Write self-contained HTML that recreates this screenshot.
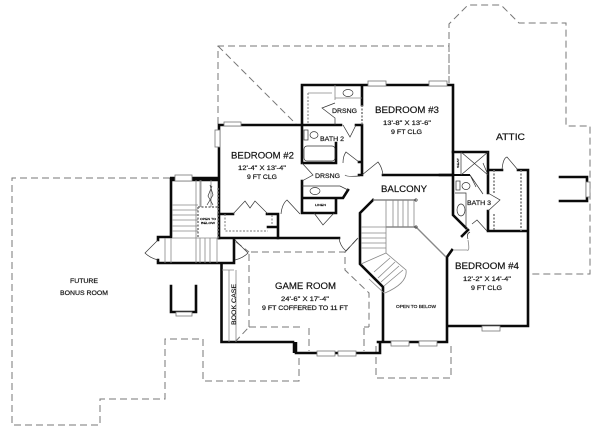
<!DOCTYPE html>
<html><head><meta charset="utf-8"><style>
html,body{margin:0;padding:0;background:#fff}
svg{display:block;filter:blur(.3px)}
text{font-family:"Liberation Sans",sans-serif;fill:#111;stroke:#111;stroke-width:.18}
.w{stroke:#0a0a0a;stroke-width:2.6;fill:none;stroke-linecap:square}
.t{stroke:#0a0a0a;stroke-width:2;fill:none}
.h{stroke:#0a0a0a;stroke-width:4.5;fill:none}
.d{stroke:#777;stroke-width:1;fill:none;stroke-dasharray:7 4}
.f{stroke:#333;stroke-width:.7;fill:none}
.g{stroke:#888;stroke-width:.8;fill:none}
.n{stroke:#777;stroke-width:.8;fill:#fff}
.o{stroke:#777;stroke-width:1.5;fill:none;stroke-dasharray:2 1.5}
</style></head><body>
<svg width="600" height="434" viewBox="0 0 600 434" xmlns="http://www.w3.org/2000/svg">
<rect width="600" height="434" fill="#fff"/>
<!-- dashed outlines -->
<path class="d" d="M218 124V46H449V83M218 46L296 124"/>
<path class="d" d="M449 83V24L468 5H501L519 23H566V126H590V274H528"/>
<path class="d" d="M170 178H12V425H100V399H165V339H203V381H299V354"/>
<path class="d" d="M376 346V378H451V346"/>
<path class="d" d="M249 327V252H345V270L369 293V327M249 327H300M309 328V351M364 328V351M369 327H364M235 342L249 327M345 252L358 238M236 242L249 252"/>
<!-- main walls -->
<path class="w" d="M219 238V125H302M302 85V163H336V143M302 85H453V215L466 228M302 125H341M356 125H362M362 85V105M362 125V175M359 162H362M359 175H362M383 175H453"/>
<path class="h" d="M170 179H219"/>
<path class="w" d="M171 179V237H158V240M158 260V263H234V240M219 238H339M221.5 264V342H293"/>
<path class="h" d="M295 342V353"/>
<path class="w" d="M296 353H380V343"/>
<path class="w" d="M378 342H447V326H528V170H518M502 170H488V152H453M488 152V193M488 211V231H528M383 342V287L360 264V213L373 200M447 342V257L452 250M462 236L468 230M440 175H453"/>
<path class="t" d="M453 175H470"/>
<path class="w" d="M560 177H587V201H560M171 286V312H196V286"/>
<path class="w" d="M219 214H233M267 214H278V238M268 227H278V238"/>
<path class="w" d="M302 181V213H336V198M302 198H343L348 190"/>
<!-- windows -->
<g class="n">
<rect x="224" y="122" width="17" height="4"/><rect x="215" y="130" width="5" height="17"/>
<rect x="175" y="175" width="17" height="6"/>
<rect x="368" y="81" width="18" height="5"/><rect x="429" y="81" width="18" height="5"/>
<rect x="482" y="326" width="18" height="5"/>
<rect x="391" y="341" width="18" height="5"/><rect x="419" y="341" width="18" height="5"/>
<rect x="317" y="351" width="18" height="5"/><rect x="338" y="351" width="18" height="5"/>
<rect x="176" y="312" width="16" height="4"/>
<rect x="586" y="182" width="4" height="15"/>
</g>
<!-- stairs left -->
<path class="g" d="M172 205H198M172 210H198M172 215H198M172 220H198M172 226H198M172 231H198M172 238H219M196 180V238M200 180V207M201 180V207M211 180V207M165 238V263M171 238V263M196 238V263M200 238V263M205 238V263M210 238V263M217 238V263"/>
<path class="f" d="M210 185L213 195L207 205M212 186L208 196L213 205"/>
<path class="o" d="M198 207H218V238M198 207V238M218 188V207"/>
<!-- bay doors -->
<path class="f" d="M158 240L145 253Q150 258 158 260M235 240L248 253Q243 258 235 260"/>
<!-- bedroom 2 closet -->
<path class="f" d="M233 214L245 201L250 208L255 201L268 214M281 214Q282 204 287 200L300 214"/>
<path class="o" style="stroke-width:1" d="M225 214V231H268M272 215V226"/>
<!-- book case -->
<path class="g" d="M236 270V342M229 270V342M222 270H234"/>
<!-- bath 2 area -->
<path class="g" d="M335 85V100M335 98H362M308 93H332"/>
<path class="o" style="stroke-width:1" d="M308 93V124"/>
<path class="o" d="M362 105V125"/>
<ellipse class="f" cx="348" cy="93" rx="5" ry="3.5"/>
<path class="f" d="M335 103L322 108L335 118V125"/>
<path class="f" d="M343 125L350 137L356 125"/>
<rect class="f" x="304" y="130" width="4" height="10"/><ellipse class="f" cx="314" cy="135" rx="4" ry="3.4"/>
<rect class="f" x="304" y="146" width="31" height="15" rx="3"/>
<path class="f" d="M343 163Q343 156 346 152L359 162"/>
<path class="f" d="M302 163L313 175L302 181M345 175Q346 177 360 176"/>
<ellipse class="f" cx="315" cy="191" rx="5" ry="3.5"/>
<path class="f" d="M302 186H340L348 190"/>
<path class="f" d="M314 213L323 225L334 213"/>
<!-- balcony door -->
<path class="f" d="M362 175L378 162Q382 167 383 175"/>
<!-- game room door -->
<path class="f" d="M339 238Q340 246 346 251L358 238"/>
<!-- main stair -->
<path class="g" style="stroke-width:1.4" d="M373 200H416M386 227H416M416 227L446 257"/>
<path class="g" d="M386 200V253M393 200V227M398 200V227M403 200V227M408 200V227M414 200V227M361 227H386M361 233H386M361 238H386M361 243H386M361 248H386M361 264L386 253L406 270Q408 283 385 293M384 293L369 279M390 258L374 272M395 262L378 278M399 266L381 282M403 270L384 286"/>
<circle class="f" cx="416" cy="200" r="1.2"/><circle class="f" cx="416" cy="227" r="1.2"/>
<!-- bath 3 -->
<path class="f" d="M461 152V175M461 175L488 152M461 152L488 175"/>
<path class="f" d="M470 175L483 194M483 163L488 175M470 175L476 187"/>
<rect class="f" x="456" y="181" width="4" height="9"/><ellipse class="f" cx="466" cy="186" rx="4" ry="3.5"/>
<ellipse class="f" cx="461" cy="210" rx="4" ry="6"/>
<path class="f" d="M455 193H466V228M488 193L500 200L488 211M472 224L477 220L487 231M468 239Q466 234 470 232"/>
<path class="f" d="M502 170Q503 158 507 157L518 170"/>
<path class="o" d="M494 170V193M494 214V231M521 170V231"/>
<path class="g" d="M453 250H467Q470 252 468 240"/>
<!-- labels -->
<g>
<text x="231" y="158.500" font-size="9.6" textLength="63" lengthAdjust="spacingAndGlyphs">BEDROOM #2</text>
<text x="238" y="170" font-size="6.2" textLength="48" lengthAdjust="spacingAndGlyphs">12'-4" X 13'-4"</text>
<text x="247" y="179" font-size="6.2" textLength="30" lengthAdjust="spacingAndGlyphs">9 FT CLG</text>
<text x="375" y="113" font-size="9.6" textLength="64" lengthAdjust="spacingAndGlyphs">BEDROOM #3</text>
<text x="383" y="125" font-size="6.2" textLength="48" lengthAdjust="spacingAndGlyphs">13'-8" X 13'-6"</text>
<text x="391" y="134" font-size="6.2" textLength="31" lengthAdjust="spacingAndGlyphs">9 FT CLG</text>
<text x="332" y="113" font-size="6.3" textLength="25" lengthAdjust="spacingAndGlyphs">DRSNG</text>
<text x="320" y="141" font-size="6.3" textLength="24" lengthAdjust="spacingAndGlyphs">BATH 2</text>
<text x="315" y="178" font-size="6.3" textLength="25" lengthAdjust="spacingAndGlyphs">DRSNG</text>
<text x="381" y="192" font-size="9.2" textLength="46" lengthAdjust="spacingAndGlyphs">BALCONY</text>
<text x="496" y="140" font-size="9.2" textLength="29" lengthAdjust="spacingAndGlyphs">ATTIC</text>
<text x="467" y="205" font-size="6.3" textLength="24" lengthAdjust="spacingAndGlyphs">BATH 3</text>
<text x="455" y="269" font-size="9.6" textLength="64" lengthAdjust="spacingAndGlyphs">BEDROOM #4</text>
<text x="463" y="281" font-size="6.2" textLength="48" lengthAdjust="spacingAndGlyphs">12'-2" X 14'-4"</text>
<text x="471" y="290" font-size="6.2" textLength="31" lengthAdjust="spacingAndGlyphs">9 FT CLG</text>
<text x="275" y="289" font-size="9.6" textLength="61" lengthAdjust="spacingAndGlyphs">GAME ROOM</text>
<text x="281" y="301" font-size="6.2" textLength="48" lengthAdjust="spacingAndGlyphs">24'-6" X 17'-4"</text>
<text x="262" y="310" font-size="6.2" textLength="86" lengthAdjust="spacingAndGlyphs">9 FT COFFERED TO 11 FT</text>
<text x="396" y="308" font-size="4.4" textLength="40" lengthAdjust="spacingAndGlyphs">OPEN TO BELOW</text>
<text x="70" y="283" font-size="6.2" textLength="28" lengthAdjust="spacingAndGlyphs">FUTURE</text>
<text x="60" y="295" font-size="6.2" textLength="48" lengthAdjust="spacingAndGlyphs">BONUS ROOM</text>
<text transform="translate(236,325) rotate(-90)" font-size="6.6" textLength="41" lengthAdjust="spacingAndGlyphs">BOOK CASE</text>
<text x="200" y="220" font-size="3" textLength="16" lengthAdjust="spacingAndGlyphs">OPEN TO</text>
<text x="201" y="224" font-size="3" textLength="14" lengthAdjust="spacingAndGlyphs">BELOW</text>
<text x="315" y="206" font-size="3" textLength="11" lengthAdjust="spacingAndGlyphs">LINEN</text>
<text transform="translate(459,168) rotate(-90)" font-size="3" textLength="10" lengthAdjust="spacingAndGlyphs">SEAT</text>
</g>
</svg>
</body></html>
